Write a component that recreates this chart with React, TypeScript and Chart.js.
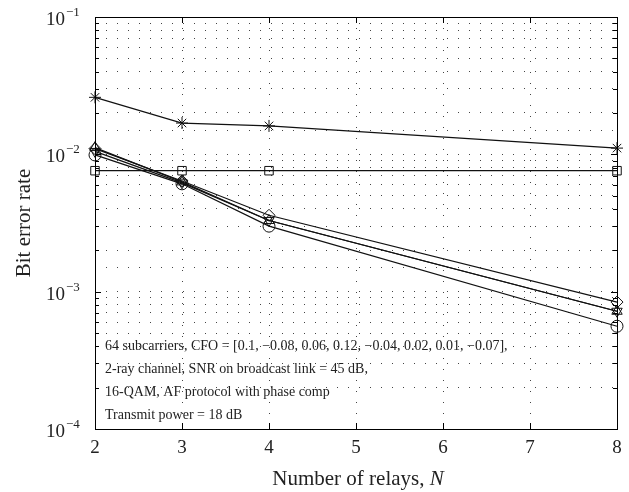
import React, { useEffect, useRef } from 'react';
import { Chart, registerables } from 'chart.js';
Chart.register(...registerables);

const relays = [2, 3, 4, 8];
const berStar = [0.026, 0.0169, 0.0161, 0.0111];
const berSquare = [0.0076, 0.0076, 0.0076, 0.0076];
const berDiamond = [0.011, 0.0064, 0.0036, 0.00084];
const berTriUp = [0.0112, 0.0063, 0.0033, 0.00072];
const berTriDown = [0.0105, 0.0062, 0.0033, 0.00072];
const berCircle = [0.0099, 0.0061, 0.003, 0.00056];
const xTicks = [2, 3, 4, 5, 6, 7, 8];
const yDecades = [1e-4, 1e-3, 1e-2, 1e-1];
const yDecadeExp = ['−4', '−3', '−2', '−1'];
const xTitle = 'Number of relays, ';
const xTitleItalic = 'N';
const yTitle = 'Bit error rate';
const notes = [
  '64 subcarriers, CFO = [0.1, −0.08, 0.06, 0.12, −0.04, 0.02, 0.01, −0.07],',
  '2-ray channel, SNR on broadcast link = 45 dB,',
  '16-QAM, AF protocol with phase comp',
  'Transmit power = 18 dB',
];

const SERIF = '"Liberation Serif", "DejaVu Serif", serif';

const pts = (ys: number[]) => relays.map((x, i) => ({ x, y: ys[i] }));

const overlay = {
  id: 'overlay',
  afterDraw(chart: any) {
    const { ctx, chartArea: a, scales } = chart;
    const xs = scales.x;
    const ys = scales.y;
    ctx.save();
    ctx.strokeStyle = '#000';
    ctx.lineWidth = 1;
    ctx.setLineDash([]);
    ctx.strokeRect(Math.round(a.left) + 0.5, Math.round(a.top) + 0.5, Math.round(a.right - a.left), Math.round(a.bottom - a.top));
    for (let e = -4; e < -1; e++) {
      for (let m = 1; m <= 9; m++) {
        const v = m * Math.pow(10, e);
        const py = Math.round(ys.getPixelForValue(v)) + 0.5;
        const len = m === 1 ? 6 : 4;
        ctx.beginPath();
        ctx.moveTo(a.left, py); ctx.lineTo(a.left + len, py);
        ctx.moveTo(a.right, py); ctx.lineTo(a.right - len, py);
        ctx.stroke();
      }
    }
    for (const t of xTicks) {
      const px = Math.round(xs.getPixelForValue(t)) + 0.5;
      ctx.beginPath();
      ctx.moveTo(px, a.bottom); ctx.lineTo(px, a.bottom - 6);
      ctx.moveTo(px, a.top); ctx.lineTo(px, a.top + 6);
      ctx.stroke();
    }
    ctx.fillStyle = '#222';
    ctx.font = `19px ${SERIF}`;
    ctx.textAlign = 'center';
    ctx.textBaseline = 'alphabetic';
    for (const t of xTicks) {
      ctx.fillText(String(t), xs.getPixelForValue(t), a.bottom + 24);
    }
    yDecades.forEach((v, i) => {
      const py = ys.getPixelForValue(v);
      ctx.font = `19px ${SERIF}`;
      ctx.textAlign = 'right';
      ctx.fillText('10', 65, py + 8);
      ctx.font = `13px ${SERIF}`;
      ctx.textAlign = 'left';
      ctx.fillText(yDecadeExp[i], 66, py - 1);
    });
    ctx.font = `21px ${SERIF}`;
    const w1 = ctx.measureText(xTitle).width;
    ctx.font = `italic 21px ${SERIF}`;
    const w2 = ctx.measureText(xTitleItalic).width;
    const cx = (a.left + a.right) / 2 + 2;
    const sx = cx - (w1 + w2) / 2;
    ctx.textAlign = 'left';
    ctx.font = `21px ${SERIF}`;
    ctx.fillText(xTitle, sx, a.bottom + 56);
    ctx.font = `italic 21px ${SERIF}`;
    ctx.fillText(xTitleItalic, sx + w1, a.bottom + 56);
    ctx.save();
    ctx.translate(30, (a.top + a.bottom) / 2);
    ctx.rotate(-Math.PI / 2);
    ctx.font = `21px ${SERIF}`;
    ctx.textAlign = 'center';
    ctx.fillText(yTitle, 0, 0);
    ctx.restore();
    ctx.font = `14px ${SERIF}`;
    ctx.textAlign = 'left';
    notes.forEach((n, i) => {
      ctx.fillText(n, a.left + 10, 350 + i * 23);
    });
    ctx.restore();
  },
};

export default function App() {
  const ref = useRef<HTMLCanvasElement>(null);
  useEffect(() => {
    if (!ref.current) return;
    const ds = (data: number[], style: string, radius: number, rotation = 0) => ({
      data: pts(data),
      borderColor: '#111',
      borderWidth: 1.2,
      pointStyle: style,
      pointRadius: radius,
      pointRotation: rotation,
      pointBorderColor: '#111',
      pointBackgroundColor: 'rgba(0,0,0,0)',
      pointBorderWidth: 1,
      fill: false,
      tension: 0,
      clip: false,
    });
    const chart = new Chart(ref.current, {
      type: 'line',
      data: {
        datasets: [
          ds(berStar, 'star', 6),
          ds(berSquare, 'rect', 6),
          ds(berDiamond, 'rectRot', 6),
          ds(berTriUp, 'triangle', 6),
          ds(berTriDown, 'triangle', 6, 180),
          ds(berCircle, 'circle', 6),
        ] as any,
      },
      options: {
        responsive: false,
        animation: false,
        devicePixelRatio: 1,
        layout: { padding: { left: 95, right: 12, top: 17, bottom: 63 } },
        plugins: { legend: { display: false }, tooltip: { enabled: false } },
        scales: {
          x: {
            type: 'linear',
            min: 2,
            max: 8,
            ticks: { display: false, stepSize: 1 },
            grid: { color: '#444', lineWidth: 1, drawTicks: false },
            border: { display: false, dash: [1, 10] },
            afterFit: (s: any) => { s.height = 0; },
          },
          y: {
            type: 'logarithmic',
            min: 1e-4,
            max: 1e-1,
            ticks: { display: false, autoSkip: false },
            grid: { color: '#444', lineWidth: 1, drawTicks: false },
            border: { display: false, dash: [1, 10] },
            afterFit: (s: any) => { s.width = 0; },
          },
        },
      } as any,
      plugins: [overlay],
    });
    return () => chart.destroy();
  }, []);
  return (
    <canvas
      ref={ref}
      width={629}
      height={492}
      style={{ position: 'absolute', left: 0, top: 0, width: 629, height: 492, background: '#fff' }}
    />
  );
}
